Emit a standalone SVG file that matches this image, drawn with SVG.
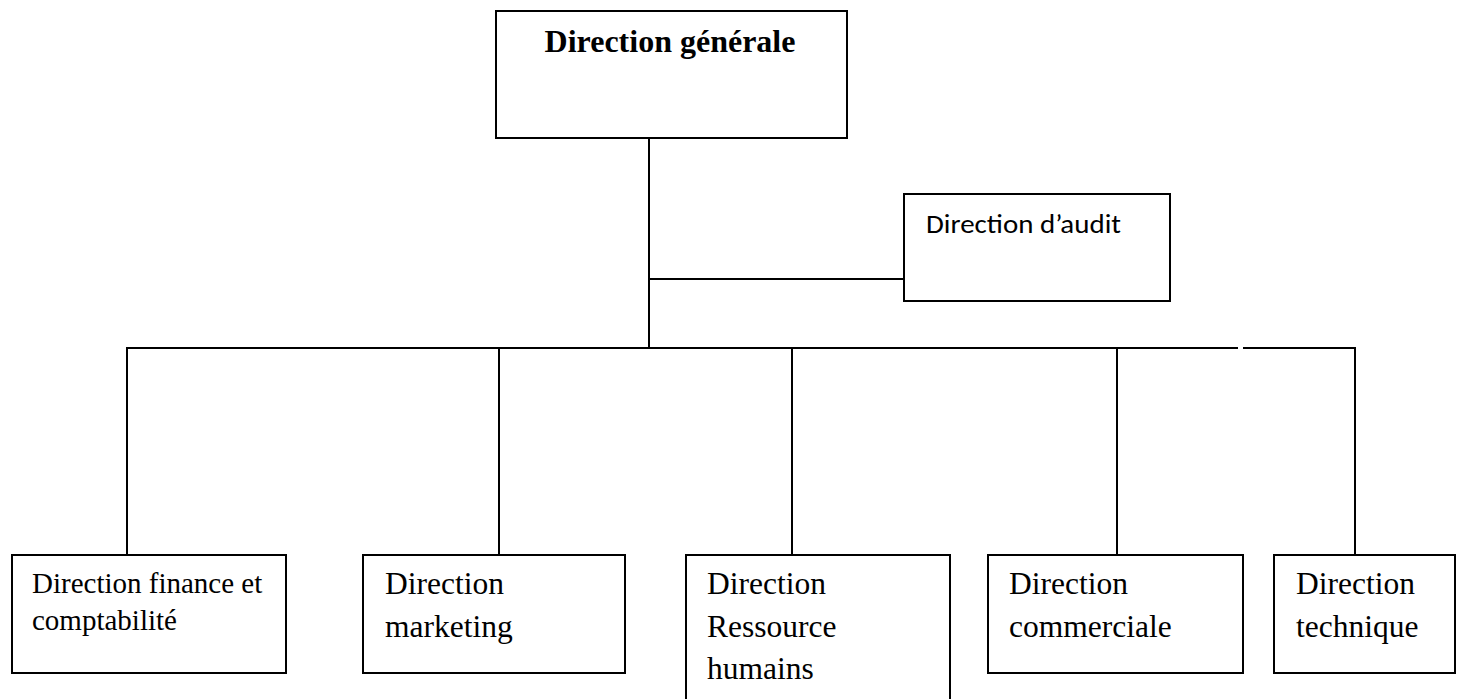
<svg xmlns="http://www.w3.org/2000/svg" width="1463" height="699" viewBox="0 0 1463 699">
  <style>
    .box { fill: #ffffff; stroke: #000000; stroke-width: 2; }
    .link { fill: none; stroke: #000000; stroke-width: 2; }
    .serif { font-family: "Liberation Serif", "Times New Roman", serif; fill: #000000; }
    .title { font-size: 32px; font-weight: bold; }
    .dept { font-size: 31.5px; }
    .dept-small { font-size: 29px; }
    .sans { font-family: Carlito, "Liberation Sans", Arial, sans-serif; font-size: 27px; fill: #000000; }
  </style>
  <rect width="1463" height="699" fill="#ffffff"/>

  <!-- connectors -->
  <g id="connectors" class="link">
    <line x1="649" y1="138" x2="649" y2="348"/>
    <line x1="649" y1="279" x2="904" y2="279"/>
    <line x1="126" y1="348" x2="1238" y2="348"/>
    <line x1="1243" y1="348" x2="1356" y2="348"/>
    <line x1="127" y1="348" x2="127" y2="555"/>
    <line x1="499" y1="348" x2="499" y2="555"/>
    <line x1="792" y1="348" x2="792" y2="555"/>
    <line x1="1117" y1="348" x2="1117" y2="555"/>
    <line x1="1355" y1="348" x2="1355" y2="555"/>
  </g>

  <!-- head office -->
  <g id="direction-generale">
    <rect class="box" x="496" y="11" width="351" height="127"/>
    <text class="serif title" x="670" y="52" text-anchor="middle">Direction générale</text>
  </g>

  <!-- audit -->
  <g id="direction-audit">
    <rect class="box" x="904" y="194" width="266" height="107"/>
    <text class="sans" x="926" y="233" textLength="195" lengthAdjust="spacingAndGlyphs">Direction d’audit</text>
  </g>

  <!-- departments -->
  <g id="direction-finance">
    <rect class="box" x="12" y="555" width="274" height="118"/>
    <text class="serif dept-small" x="32" y="593">Direction finance et</text>
    <text class="serif dept-small" x="32" y="630">comptabilité</text>
  </g>

  <g id="direction-marketing">
    <rect class="box" x="363" y="555" width="262" height="118"/>
    <text class="serif dept" x="385" y="594">Direction</text>
    <text class="serif dept" x="385" y="637">marketing</text>
  </g>

  <g id="direction-rh">
    <rect class="box" x="686" y="555" width="264" height="160"/>
    <text class="serif dept" x="707" y="594">Direction</text>
    <text class="serif dept" x="707" y="637">Ressource</text>
    <text class="serif dept" x="707" y="679">humains</text>
  </g>

  <g id="direction-commerciale">
    <rect class="box" x="988" y="555" width="255" height="118"/>
    <text class="serif dept" x="1009" y="594">Direction</text>
    <text class="serif dept" x="1009" y="637">commerciale</text>
  </g>

  <g id="direction-technique">
    <rect class="box" x="1274" y="555" width="181" height="118"/>
    <text class="serif dept" x="1296" y="594">Direction</text>
    <text class="serif dept" x="1296" y="637">technique</text>
  </g>
</svg>
